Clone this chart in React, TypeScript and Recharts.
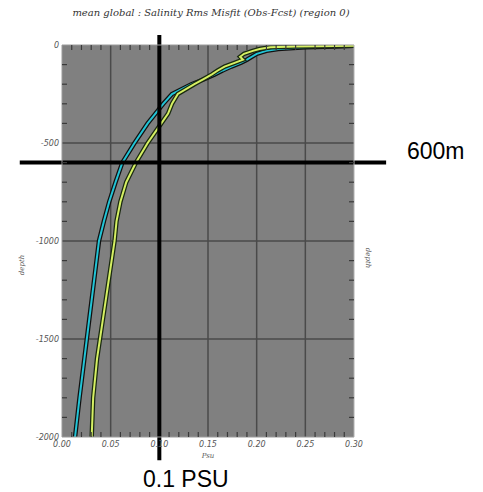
import { LineChart, Line, XAxis, YAxis, CartesianGrid, ReferenceLine } from "recharts";

// depth levels (m, negative downward) shared by both profiles
const depths = [
  -4, -8, -12, -20, -30, -45, -60, -75, -90, -110, -130, -150, -175, -200, -250, -300, -350,
  -400, -500, -600, -700, -800, -900, -1000, -1200, -1400, -1600, -1800, -2000,
];

// rms misfit (psu), cyan profile
const cyanMisfit = [
  0.3, 0.28, 0.25, 0.222, 0.21, 0.2, 0.195, 0.19, 0.184, 0.174, 0.165, 0.157, 0.146, 0.133,
  0.113, 0.104, 0.096, 0.088, 0.0745, 0.062, 0.055, 0.0485, 0.043, 0.038, 0.033, 0.028, 0.023,
  0.018, 0.0134,
];

// rms misfit (psu), yellow-green profile
const greenMisfit = [
  0.3, 0.24, 0.214, 0.203, 0.196, 0.187, 0.183, 0.186, 0.178, 0.167, 0.16, 0.154, 0.145, 0.136,
  0.119, 0.113, 0.109, 0.102, 0.088, 0.076, 0.066, 0.06, 0.056, 0.054, 0.048, 0.042, 0.036,
  0.032, 0.0305,
];

const psuTicks = [0, 0.05, 0.1, 0.15, 0.2, 0.25, 0.3];
const depthTicks = [-2000, -1500, -1000, -500, 0];
const minorPsuTicks = [
  0.01, 0.02, 0.03, 0.04, 0.06, 0.07, 0.08, 0.09, 0.11, 0.12, 0.13, 0.14, 0.16, 0.17, 0.18,
  0.19, 0.21, 0.22, 0.23, 0.24, 0.26, 0.27, 0.28, 0.29,
];
const minorDepthTicks = [
  -100, -200, -300, -400, -600, -700, -800, -900, -1100, -1200, -1300, -1400, -1600, -1700,
  -1800, -1900,
];

const cyanData = depths.map((d, i) => ({ psu: cyanMisfit[i], depth: d }));
const greenData = depths.map((d, i) => ({ psu: greenMisfit[i], depth: d }));

const tickStyle = { fontSize: 8, fill: "#555", fontStyle: "italic", fontFamily: "DejaVu Sans" };
const minorTickLine = { stroke: "#3a3a3a", strokeWidth: 1.2 };
const noLabel = () => "";

export default function App() {
  return (
    <div style={{ position: "absolute", left: 0, top: 0, width: 483, height: 492, background: "#fff" }}>
      <LineChart
        width={483}
        height={492}
        margin={{ top: 45, left: 61, right: 129, bottom: 54 }}
      >
        <CartesianGrid
          fill="#808080"
          stroke="#4a4a4a"
          strokeWidth={1.5}
          verticalValues={[0.05, 0.1, 0.15, 0.2, 0.25]}
          horizontalValues={[-500, -1000, -1500]}
        />
        <XAxis
          type="number"
          dataKey="psu"
          domain={[0, 0.3]}
          ticks={psuTicks}
          interval={0}
          height={1}
          allowDataOverflow
          axisLine={{ stroke: "#9a9a9a" }}
          tickLine={false}
          tickSize={0}
          tickMargin={4}
          tick={tickStyle}
          tickFormatter={(v: number) => v.toFixed(2)}
        />
        <XAxis
          xAxisId="minorBottom"
          dataKey="psu"
          type="number"
          domain={[0, 0.3]}
          ticks={minorPsuTicks}
          interval={0}
          height={1}
          mirror
          allowDataOverflow
          axisLine={false}
          tickFormatter={noLabel}
          tickSize={5}
          tickLine={minorTickLine}
        />
        <XAxis
          xAxisId="minorTop"
          dataKey="psu"
          orientation="top"
          type="number"
          domain={[0, 0.3]}
          ticks={minorPsuTicks}
          interval={0}
          height={1}
          mirror
          allowDataOverflow
          axisLine={{ stroke: "#9a9a9a" }}
          tickFormatter={noLabel}
          tickSize={5}
          tickLine={minorTickLine}
        />
        <YAxis
          type="number"
          dataKey="depth"
          domain={[-2000, 0]}
          ticks={depthTicks}
          interval={0}
          width={1}
          allowDataOverflow
          axisLine={{ stroke: "#9a9a9a" }}
          tickLine={false}
          tickSize={0}
          tickMargin={3}
          tick={tickStyle}
        />
        <YAxis
          yAxisId="minorLeft"
          type="number"
          domain={[-2000, 0]}
          ticks={minorDepthTicks}
          interval={0}
          width={1}
          mirror
          allowDataOverflow
          axisLine={false}
          tickFormatter={noLabel}
          tickSize={5}
          tickLine={minorTickLine}
        />
        <YAxis
          yAxisId="minorRight"
          orientation="right"
          type="number"
          domain={[-2000, 0]}
          ticks={minorDepthTicks}
          interval={0}
          width={1}
          mirror
          allowDataOverflow
          axisLine={{ stroke: "#b0b0b0" }}
          tickFormatter={noLabel}
          tickSize={5}
          tickLine={minorTickLine}
        />
        {/* invisible series so the minor-tick axes get a domain */}
        <Line
          data={cyanData}
          dataKey="depth"
          xAxisId="minorTop"
          yAxisId="minorLeft"
          stroke="none"
          dot={false}
          legendType="none"
          isAnimationActive={false}
        />
        <Line
          data={cyanData}
          dataKey="depth"
          xAxisId="minorBottom"
          yAxisId="minorRight"
          stroke="none"
          dot={false}
          legendType="none"
          isAnimationActive={false}
        />
        <Line data={cyanData} dataKey="depth" stroke="#111" strokeWidth={4.5} dot={false} isAnimationActive={false} />
        <Line data={cyanData} dataKey="depth" stroke="#22c4d6" strokeWidth={2} dot={false} isAnimationActive={false} />
        <Line data={greenData} dataKey="depth" stroke="#1a2a10" strokeWidth={4.5} dot={false} isAnimationActive={false} />
        <Line data={greenData} dataKey="depth" stroke="#d6f064" strokeWidth={2} dot={false} isAnimationActive={false} />
        <ReferenceLine
          segment={[{ x: 0.1, y: 51 }, { x: 0.1, y: -2118 }]}
          stroke="#000"
          strokeWidth={4}
          ifOverflow="visible"
        />
        <ReferenceLine
          segment={[{ x: -0.0434, y: -600 }, { x: 0.333, y: -600 }]}
          stroke="#000"
          strokeWidth={4}
          ifOverflow="visible"
        />
      </LineChart>
      <svg
        width={483}
        height={492}
        style={{ position: "absolute", left: 0, top: 0, pointerEvents: "none" }}
      >
        <text
          x={211}
          y={16}
          textAnchor="middle"
          fontSize={10}
          fontStyle="italic"
          fontFamily="DejaVu Serif"
          fill="#333"
        >
          mean global : Salinity Rms Misfit (Obs-Fcst)  (region 0)
        </text>
        <text x={208} y={458} textAnchor="middle" fontSize={7} fontStyle="italic" fontFamily="DejaVu Serif" fill="#555">
          Psu
        </text>
        <text
          x={24}
          y={265}
          textAnchor="middle"
          fontSize={7}
          fontStyle="italic"
          fontFamily="DejaVu Serif"
          fill="#555"
          transform="rotate(-90 24 265)"
        >
          depth
        </text>
        <text
          x={366}
          y={258}
          textAnchor="middle"
          fontSize={7}
          fontStyle="italic"
          fontFamily="DejaVu Serif"
          fill="#555"
          transform="rotate(90 366 258)"
        >
          depth
        </text>
        <text x={407} y={159} fontSize={23} fontFamily="Liberation Sans" fill="#000">
          600m
        </text>
        <text x={143} y={487} fontSize={23} fontFamily="Liberation Sans" fill="#000">
          0.1 PSU
        </text>
      </svg>
    </div>
  );
}
